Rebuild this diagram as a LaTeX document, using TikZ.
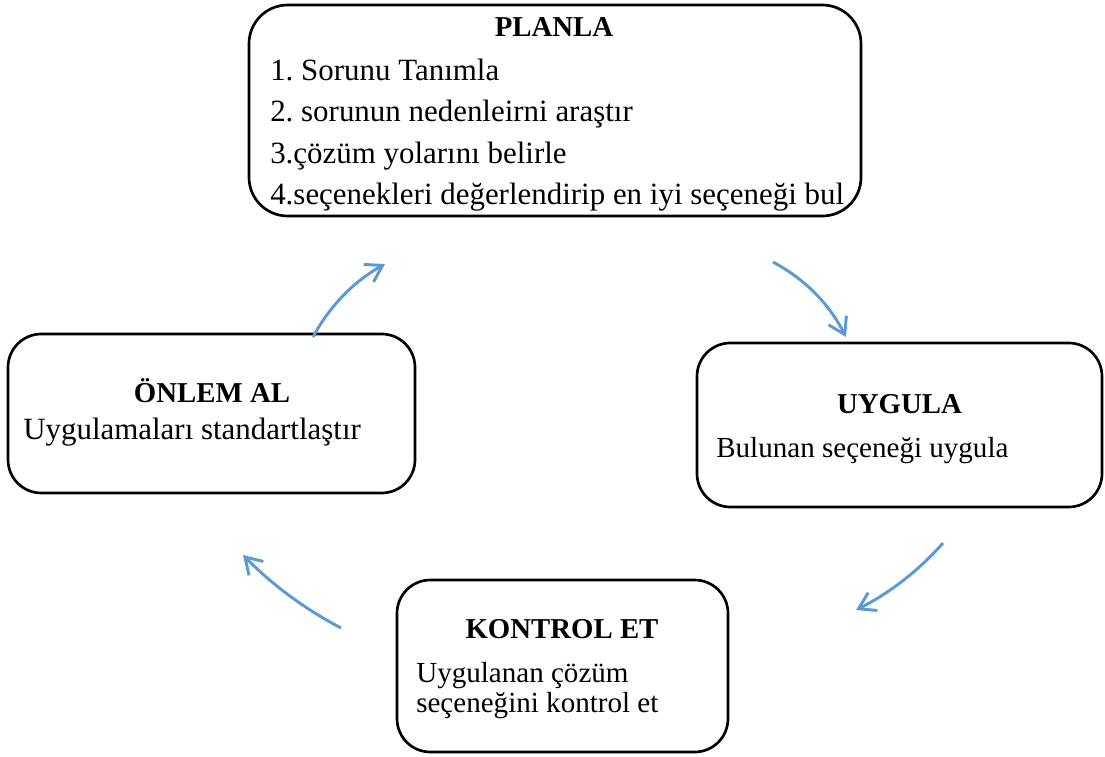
\documentclass[tikz,border=0pt]{standalone}
\usepackage{fontspec}
\setmainfont{Liberation Serif}
\usetikzlibrary{arrows.meta}
\definecolor{cycleblue}{RGB}{91,155,213}
\frenchspacing
\begin{document}
\begin{tikzpicture}[x=0.75pt,y=-0.75pt,
  stage/.style={draw=black, line width=2pt, rounded corners=25pt, inner sep=0pt},
  head/.style={font=\fontsize{21.6}{25}\selectfont\bfseries, inner sep=0pt, anchor=base},
  body/.style={font=\fontsize{23.2}{28}\selectfont, inner sep=0pt, anchor=base west},
  smallbody/.style={body, font=\fontsize{21.8}{26}\selectfont},
  cyc/.style={draw=cycleblue, line width=2.2pt, -{Straight Barb[length=12pt,width=15pt]}}]
\useasboundingbox (0,0) rectangle (1105,756);

% the four stages of the cycle
\node[stage, rounded corners=29pt, minimum width=459pt, minimum height=158.25pt] (plan) at (555,110.5) {};
\node[stage, minimum width=305.25pt, minimum height=119.25pt] (onlem) at (211.5,413.5) {};
\node[stage, minimum width=303.75pt, minimum height=123pt] (uygula) at (899.5,425) {};
\node[stage, minimum width=248.25pt, minimum height=129pt] (kontrol) at (562.5,666) {};

% PLANLA
\node[head] (planT) at (554,37) {PLANLA};
\node[body] (plan1) at (270,81) {1. Sorunu Tanımla};
\node[body] (plan2) at (270,122) {2. sorunun nedenleirni araştır};
\node[body] (plan3) at (270,163) {3.çözüm yolarını belirle};
\node[body] (plan4) at (270,204) {4.seçenekleri değerlendirip en iyi seçeneği bul};

% ÖNLEM AL
\node[head] (onlemT) at (212,402) {ÖNLEM AL};
\node[body] (onlem1) at (23,439) {Uygulamaları standartlaştır};

% UYGULA
\node[head] (uygulaT) at (899.5,413) {UYGULA};
\node[smallbody] (uygula1) at (716,457) {Bulunan seçeneği uygula};

% KONTROL ET
\node[head] (kontrolT) at (562,638) {KONTROL ET};
\node[smallbody] (kontrol1) at (416,682) {Uygulanan çözüm};
\node[smallbody] (kontrol2) at (416,712) {seçeneğini kontrol et};

% arrow end points
\coordinate (a1s) at (313,337);   \coordinate (a1e) at (385,264);
\coordinate (a2s) at (773,262);   \coordinate (a2e) at (846,337);
\coordinate (a3s) at (943,543);   \coordinate (a3e) at (856,610);
\coordinate (a4s) at (341,628);   \coordinate (a4e) at (243,555);

% clockwise cycle arrows
\draw[cyc] (a1s) .. controls (329.7,305.9) and (353.5,281.7) .. (a1e);
\draw[cyc] (a2s) .. controls (805.4,279.5) and (829.2,304) .. (a2e);
\draw[cyc] (a3s) .. controls (918.1,571.1) and (889.6,593) .. (a3e);
\draw[cyc] (a4s) .. controls (304.4,608.8) and (271.6,584.2) .. (a4e);
\end{tikzpicture}
\end{document}
